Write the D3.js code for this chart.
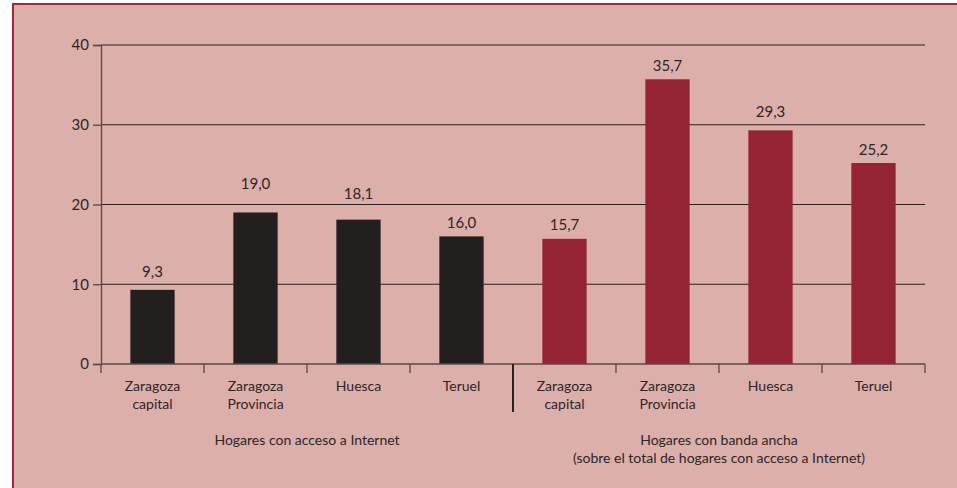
<!DOCTYPE html>
<html>
<head>
<meta charset="utf-8">
<script src="https://cdn.jsdelivr.net/npm/d3@7"></script>
<style>
  body { margin: 0; background: #fff; }
  svg { display: block; }
  text { font-family: Lato, "Open Sans", sans-serif; fill: #2e2626; }
</style>
</head>
<body>
<svg id="chart"></svg>
<script>
// data
const categories = ["Zaragoza\ncapital", "Zaragoza\nProvincia", "Huesca", "Teruel"];
const internetValues = [9.3, 19.0, 18.1, 16.0];
const broadbandValues = [15.7, 35.7, 29.3, 25.2];
const yTicks = [0, 10, 20, 30, 40];
const groupTitles = [
    ["Hogares con acceso a Internet"],
    ["Hogares con banda ancha", "(sobre el total de hogares con acceso a Internet)"]
];

const width = 957, height = 488;
const margin = {left: 101, right: 32, top: 45, bottom: 124};
const darkColor = "#231f1f";
const redColor = "#942333";
// the original sets its value labels by hand, not all at the same distance
const labelGap = [13, 23, 21, 8, 9, 8, 13, 8];

// one flat list of bars, two groups of four
let barData = [];
internetValues.forEach(function (v, i) {
    barData.push({key: "a" + i, name: categories[i], value: v, group: 0});
});
broadbandValues.forEach(function (v, i) {
    barData.push({key: "b" + i, name: categories[i], value: v, group: 1});
});

const svg = d3.select("#chart")
    .attr("width", width)
    .attr("height", height);

// pink panel with red frame
svg.append("rect")
    .attr("x", 13).attr("y", 4)
    .attr("width", width).attr("height", height)
    .attr("fill", "#dcafab")
    .attr("stroke", "#a8283a")
    .attr("stroke-width", 2);

const x = d3.scaleBand()
    .domain(barData.map(function (d) { return d.key; }))
    .range([margin.left, width - margin.right])
    .paddingInner(0.57)
    .paddingOuter(0.285);

const y = d3.scaleLinear()
    .domain([0, 40])
    .range([height - margin.bottom, margin.top]);

// gridlines
svg.append("g")
    .selectAll("line")
    .data(yTicks.filter(function (t) { return t > 0; }))
    .enter()
    .append("line")
    .attr("x1", margin.left)
    .attr("x2", width - margin.right)
    .attr("y1", function (d) { return y(d); })
    .attr("y2", function (d) { return y(d); })
    .attr("stroke", "#2b2020")
    .attr("stroke-width", 1.2);

// y axis
const yAxis = svg.append("g")
    .attr("transform", "translate(" + margin.left + ",0)")
    .call(d3.axisLeft(y).tickValues(yTicks).tickSize(8).tickPadding(4));
yAxis.select(".domain").attr("stroke", "#5a4848").attr("stroke-width", 1.3);
yAxis.selectAll(".tick line").attr("stroke", "#5a4848").attr("stroke-width", 1.3);
yAxis.selectAll(".tick text")
    .style("font-size", "15px")
    .style("font-family", "Lato, sans-serif")
    .attr("fill", "#2e2626");

// bars
svg.append("g")
    .selectAll("rect")
    .data(barData)
    .enter()
    .append("rect")
    .attr("x", function (d) { return x(d.key); })
    .attr("y", function (d) { return y(d.value); })
    .attr("width", x.bandwidth())
    .attr("height", function (d) { return y(0) - y(d.value); })
    .attr("fill", function (d) { return d.group === 0 ? darkColor : redColor; });

// value labels
svg.append("g")
    .selectAll("text")
    .data(barData)
    .enter()
    .append("text")
    .attr("x", function (d) { return x(d.key) + x.bandwidth() / 2; })
    .attr("y", function (d, i) { return y(d.value) - labelGap[i]; })
    .attr("text-anchor", "middle")
    .style("font-size", "15px")
    .text(function (d) { return d.value.toFixed(1).replace(".", ","); });

// x axis line and category separators
const xAxis = svg.append("g");
xAxis.append("line")
    .attr("x1", margin.left)
    .attr("x2", width - margin.right)
    .attr("y1", y(0))
    .attr("y2", y(0))
    .attr("stroke", "#5a4848")
    .attr("stroke-width", 1.3);

const slotW = x.step();
const tickPos = d3.range(barData.length + 1);
xAxis.selectAll("line.tick")
    .data(tickPos)
    .enter()
    .append("line")
    .attr("class", "tick")
    .attr("x1", function (i) { return margin.left + i * slotW; })
    .attr("x2", function (i) { return margin.left + i * slotW; })
    .attr("y1", y(0))
    .attr("y2", function (i) { return i === 4 ? y(0) + 48 : y(0) + 9; })
    .attr("stroke", function (i) { return i === 4 ? "#2b2020" : "#5a4848"; })
    .attr("stroke-width", function (i) { return i === 4 ? 2 : 1.3; });

// category labels
const catLabels = svg.append("g")
    .selectAll("text")
    .data(barData)
    .enter()
    .append("text")
    .attr("text-anchor", "middle")
    .style("font-size", "14px")
    .attr("transform", function (d) {
        return "translate(" + (x(d.key) + x.bandwidth() / 2) + "," + (y(0) + 27) + ")";
    });
catLabels.selectAll("tspan")
    .data(function (d) { return d.name.split("\n"); })
    .enter()
    .append("tspan")
    .attr("x", 0)
    .attr("dy", function (d, i) { return i === 0 ? 0 : 18; })
    .text(function (d) { return d; });

// group titles
groupTitles.forEach(function (lines, g) {
    const cx = margin.left + slotW * (g * 4 + 2);
    svg.append("text")
        .attr("text-anchor", "middle")
        .attr("transform", "translate(" + cx + "," + (y(0) + 81) + ")")
        .style("font-size", "14px")
        .selectAll("tspan")
        .data(lines)
        .enter()
        .append("tspan")
        .attr("x", 0)
        .attr("dy", function (d, i) { return i === 0 ? 0 : 18; })
        .text(function (d) { return d; });
});
</script>
</body>
</html>
